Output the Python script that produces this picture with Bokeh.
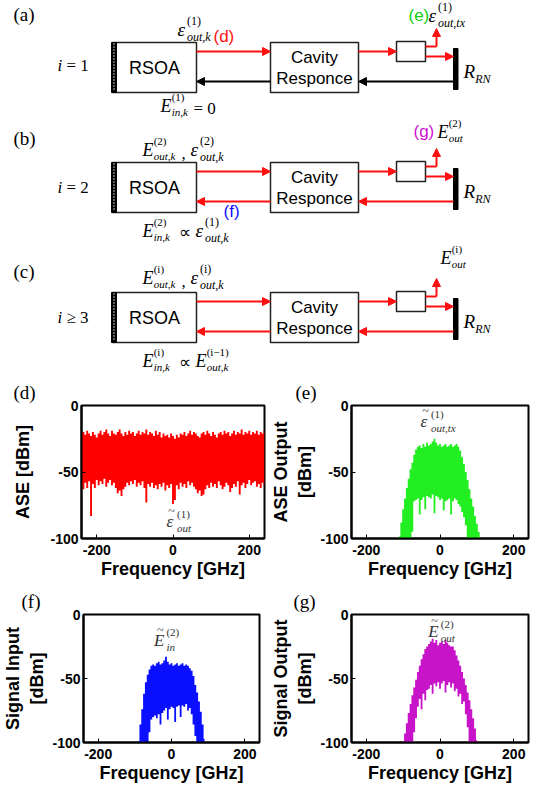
from bokeh.plotting import figure
from bokeh.layouts import column, row
from bokeh.models import Range1d, FixedTicker, Arrow, NormalHead
from bokeh.core.properties import value
from bokeh.embed import file_html
from bokeh.resources import INLINE

# ---------------- data ----------------
freq_d = list(range(-240, 245, 5))
ase_upper = [-21, -20, -22, -19, -21, -23, -20, -22, -24, -21,
             -19, -22, -20, -18, -21, -23, -19, -21, -22, -20,
             -18, -21, -23, -20, -22, -19, -21, -20, -23, -21,
             -19, -22, -20, -21, -18, -22, -20, -21, -23, -19,
             -22, -20, -24, -21, -23, -22, -24, -21, -23, -25,
             -22, -24, -21, -22, -20, -23, -21, -19, -22, -20,
             -21, -23, -24, -21, -20, -22, -19, -21, -23, -20,
             -22, -24, -21, -20, -22, -19, -21, -20, -23, -21,
             -19, -22, -20, -21, -18, -22, -20, -21, -19, -22,
             -20, -21, -19, -22, -20, -21, -19]
ase_lower = [-60, -63, -58, -62, -57, -83, -59, -62, -56, -60,
             -57, -59, -55, -61, -58, -56, -60, -58, -62, -66,
             -64, -68, -63, -61, -58, -60, -57, -59, -56, -61,
             -58, -60, -57, -62, -73, -59, -61, -58, -62, -60,
             -63, -59, -61, -58, -64, -60, -62, -59, -74, -71,
             -60, -63, -58, -61, -59, -62, -57, -60, -58, -61,
             -63, -66, -64, -68, -67, -63, -60, -62, -58, -61,
             -59, -62, -57, -60, -63, -61, -58, -60, -65, -62,
             -59, -61, -57, -67, -60, -58, -62, -59, -56, -60,
             -58, -57, -61, -59, -62, -58, -60]

freq_e = list(range(-110, 115, 5))
ase_out_upper = [-98, -88, -78, -70, -62, -55, -48, -43, -37, -33,
                 -31, -30, -32, -29, -31, -28, -30, -29, -27, -25,
                 -28, -30, -29, -31, -30, -29, -31, -30, -29, -31,
                 -30, -29, -31, -34, -39, -44, -50, -56, -63, -70,
                 -76, -83, -89, -95, -100]
ase_out_lower = [-100, -100, -100, -100, -100, -100, -100, -95, -72, -71,
                 -70, -82, -71, -69, -78, -68, -69, -70, -67, -81,
                 -68, -69, -71, -70, -79, -72, -71, -70, -82, -72,
                 -70, -71, -74, -76, -80, -84, -90, -100, -100, -100,
                 -100, -100, -100, -100, -100]

freq_f = list(range(-90, 95, 5))
sig_in_upper = [-99, -86, -74, -62, -53, -47, -43, -40, -39, -40,
                -38, -37, -39, -38, -36, -33, -37, -39, -38, -40,
                -39, -38, -40, -39, -38, -40, -39, -40, -42, -44,
                -48, -55, -61, -68, -76, -86, -97]
sig_in_lower = [-100, -100, -100, -100, -100, -100, -92, -82, -80, -79,
                -81, -78, -86, -77, -75, -73, -82, -74, -72, -73,
                -84, -72, -71, -80, -71, -72, -70, -75, -73, -78,
                -86, -95, -100, -100, -100, -100, -100]

freq_g = list(range(-100, 105, 5))
sig_out_upper = [-99, -93, -85, -77, -70, -63, -57, -51, -45, -40,
                 -35, -31, -27, -25, -23, -21, -19, -22, -20, -24,
                 -22, -21, -23, -20, -22, -24, -25, -25, -28, -32,
                 -36, -40, -45, -50, -55, -61, -67, -74, -81, -89,
                 -98]
sig_out_lower = [-100, -100, -100, -100, -100, -100, -92, -81, -72, -66,
                 -74, -62, -67, -59, -58, -55, -62, -54, -56, -53,
                 -58, -54, -52, -61, -55, -53, -57, -54, -60, -58,
                 -64, -62, -70, -68, -78, -88, -100, -100, -100, -100,
                 -100]

x_ticks = [-200, 0, 200]
x_tick_labels = ["-200", "0", "200"]
y_ticks = [-100, -50, 0]
y_tick_labels = ["-100", "-50", "0"]

SANS = "Liberation Sans"
SERIF = "Liberation Serif"


def txt(p, x, y, s, size, font=SANS, style="normal", color="black", align="left"):
    p.text(x=[x], y=[y], text=[s], text_font=value(font), text_font_style=style,
           text_font_size=f"{size}px", text_color=color, text_align=align,
           text_baseline="middle")


def sym(p, x, y, base, sub="", sup="", size=18, color="black", bw=0.62, tilde=False):
    p.text(x=[x], y=[y], text=[base], text_font=value(SERIF), text_font_style="italic",
           text_font_size=f"{size}px", text_color=color, text_align="left",
           text_baseline="middle")
    small = f"{round(size * 0.62)}px"
    xo = size * bw
    if tilde:
        p.text(x=[x], y=[y], x_offset=xo * 0.6, y_offset=-size * 0.62, text=["~"],
               text_font=value(SERIF), text_font_style="normal",
               text_font_size=f"{round(size * 0.7)}px", text_color=color,
               text_align="center", text_baseline="middle")
        xo += 2
    if sup:
        p.text(x=[x], y=[y], x_offset=xo, y_offset=-size * 0.45, text=[sup],
               text_font=value(SERIF), text_font_style="normal", text_font_size=small,
               text_color=color, text_align="left", text_baseline="middle")
    if sub:
        p.text(x=[x], y=[y], x_offset=xo, y_offset=size * 0.38, text=[sub],
               text_font=value(SERIF), text_font_style="italic", text_font_size=small,
               text_color=color, text_align="left", text_baseline="middle")


def arrow(p, x0, y0, x1, y1, color):
    p.add_layout(Arrow(end=NormalHead(size=8, fill_color=color, line_color=color, line_width=1),
                       x_start=x0, y_start=y0, x_end=x1, y_end=y1,
                       line_color=color, line_width=2))


# ---------------- block diagrams (a)-(c) ----------------
dg = figure(width=536, height=375, x_range=Range1d(0, 536), y_range=Range1d(375, 0),
            x_axis_type=None, y_axis_type=None, output_backend="svg",
            toolbar_location=None, min_border=0)
dg.grid.visible = False
dg.outline_line_color = None

RED = "#ff1010"
tops = [42, 162, 292]
back_colors = ["black", RED, RED]
for top, bc in zip(tops, back_colors):
    dg.quad(left=112, right=196, top=top, bottom=top + 50, fill_color="white",
            line_color="#222222", line_width=1.5)
    dg.quad(left=111, right=116, top=top, bottom=top + 50, fill_color="black",
            line_color="black")
    dg.segment(x0=113.5, y0=top + 1, x1=113.5, y1=top + 49, line_color="white",
               line_width=1.5, line_dash="1 2")
    dg.quad(left=270, right=358, top=top, bottom=top + 50, fill_color="white",
            line_color="#222222", line_width=1.5)
    dg.quad(left=396, right=425, top=top - 1, bottom=top + 19, fill_color="white",
            line_color="#222222", line_width=1.5)
    dg.quad(left=453, right=457.5, top=top + 6, bottom=top + 47, fill_color="black",
            line_color="black")
    # forward path
    arrow(dg, 196, top + 9, 270, top + 9, RED)
    arrow(dg, 358, top + 9, 396, top + 9, RED)
    dg.line(x=[425, 436], y=[top + 4, top + 4], line_color=RED, line_width=2)
    arrow(dg, 436, top + 4, 436, top - 14, RED)
    arrow(dg, 425, top + 14, 453, top + 14, RED)
    # backward path
    arrow(dg, 453, top + 39, 358, top + 39, bc)
    arrow(dg, 270, top + 39, 196, top + 39, bc)
    txt(dg, 154, top + 25, "RSOA", 18, align="center")
    txt(dg, 314, top + 15, "Cavity", 17, align="center")
    txt(dg, 314, top + 36, "Responce", 17, align="center")
    sym(dg, 463, top + 29, "R", sub="RN", size=19)

# panel (a)
txt(dg, 13, 14, "(a)", 19, font=SERIF)
txt(dg, 57, 65, "i", 17, font=SERIF, style="italic")
txt(dg, 66, 65, "= 1", 17, font=SERIF)
sym(dg, 177, 29, "ε", sub="out,k", sup="(1)", size=19, bw=0.5)
txt(dg, 213, 36, "(d)", 17, color=RED)
txt(dg, 408, 15, "(e)", 17, color="#10d010")
sym(dg, 428, 15, "ε", sub="out,tx", sup="(1)", size=19, bw=0.5)
sym(dg, 160, 105, "E", sub="in,k", sup="(1)", size=18)
txt(dg, 193, 108, "= 0", 17, font=SERIF)

# panel (b)
txt(dg, 13, 138, "(b)", 19, font=SERIF)
txt(dg, 57, 187, "i", 17, font=SERIF, style="italic")
txt(dg, 66, 187, "= 2", 17, font=SERIF)
sym(dg, 142, 149, "E", sub="out,k", sup="(2)", size=18)
txt(dg, 181, 153, ",", 17, font=SERIF)
sym(dg, 190, 149, "ε", sub="out,k", sup="(2)", size=19, bw=0.5)
txt(dg, 413, 131, "(g)", 17, color="#d010d0")
sym(dg, 437, 131, "E", sub="out", sup="(2)", size=18)
txt(dg, 223, 211, "(f)", 17, color="#1010ff")
sym(dg, 142, 230, "E", sub="in,k", sup="(2)", size=18)
txt(dg, 178, 232, "∝", 17, font=SERIF)
sym(dg, 195, 230, "ε", sub="out,k", sup="(1)", size=19, bw=0.5)

# panel (c)
txt(dg, 13, 271, "(c)", 19, font=SERIF)
txt(dg, 57, 317, "i", 17, font=SERIF, style="italic")
txt(dg, 66, 317, "≥ 3", 17, font=SERIF)
sym(dg, 142, 277, "E", sub="out,k", sup="(i)", size=18)
txt(dg, 181, 281, ",", 17, font=SERIF)
sym(dg, 190, 277, "ε", sub="out,k", sup="(i)", size=19, bw=0.5)
sym(dg, 440, 257, "E", sub="out", sup="(i)", size=18)
sym(dg, 142, 360, "E", sub="in,k", sup="(i)", size=18)
txt(dg, 178, 362, "∝", 17, font=SERIF)
sym(dg, 195, 360, "E", sub="out,k", sup="(i−1)", size=18)


# ---------------- spectra (d)-(g) ----------------
def spectrum(freq, lower, upper, color, ylabel, borders, height, label_standoff,
             letter, letter_px, ann):
    bl, br, bt, bb = borders
    p = figure(width=268, height=height, x_range=Range1d(-240, 240),
               y_range=Range1d(-100, 0), output_backend="svg", toolbar_location=None,
               min_border_left=bl, min_border_right=br, min_border_top=bt,
               min_border_bottom=bb)
    p.varea_step(x=freq, y1=lower, y2=upper, step_mode="center", fill_color=color)
    p.grid.visible = False
    p.outline_line_color = "black"
    p.outline_line_width = 2
    p.xaxis.ticker = FixedTicker(ticks=x_ticks)
    p.xaxis.major_label_overrides = dict(zip(x_ticks, x_tick_labels))
    p.yaxis.ticker = FixedTicker(ticks=y_ticks)
    p.yaxis.major_label_overrides = dict(zip(y_ticks, y_tick_labels))
    p.axis.axis_line_width = 2
    p.axis.major_tick_in = 4
    p.axis.major_tick_out = 0
    p.axis.minor_tick_line_color = None
    p.axis.major_label_text_font = SANS
    p.axis.major_label_text_font_style = "bold"
    p.axis.major_label_text_font_size = "14px"
    p.axis.major_label_text_color = "black"
    p.axis.axis_label_text_font = SANS
    p.axis.axis_label_text_font_style = "bold"
    p.axis.axis_label_text_font_size = "18px"
    p.axis.axis_label_text_color = "black"
    p.xaxis.major_label_standoff = 6
    p.yaxis.major_label_standoff = 3
    p.xaxis.axis_label = "Frequency [GHz]"
    p.xaxis.axis_label_standoff = 1
    p.yaxis.axis_label = ylabel
    p.yaxis.axis_label_standoff = label_standoff
    # panel letter as a left-aligned title shifted into the left margin
    p.title.text = letter
    p.title.text_font = SERIF
    p.title.text_font_style = "normal"
    p.title.text_font_size = "19px"
    p.title.text_color = "black"
    p.title.align = "left"
    p.title.offset = letter_px - bl
    p.title.standoff = 6
    base, sub, sup, ax, ay = ann
    sym(p, ax, ay, base, sub=sub, sup=sup, size=17, color="#333333",
        bw=(0.5 if base == "ε" else 0.62), tilde=True)
    return p


pd_ = spectrum(freq_d, ase_lower, ase_upper, "#ff0000", "ASE [dBm]",
               (81, 4, 30, 47), 210, 14, "(d)", 13,
               ("ε", "out", "(1)", -17, -87))
pe_ = spectrum(freq_e, ase_out_lower, ase_out_upper, "#22ee22", "ASE Output\n[dBm]",
               (78, 8, 30, 47), 210, 2, "(e)", 22,
               ("ε", "out,tx", "(1)", -53, -12))
pf_ = spectrum(freq_f, sig_in_lower, sig_in_upper, "#0a10ff", "Signal Input\n[dBm]",
               (79, 9, 24, 49), 206, 2, "(f)", 17,
               ("E", "in", "(2)", -48, -20))
pg_ = spectrum(freq_g, sig_out_lower, sig_out_upper, "#c814c8", "Signal Output\n[dBm]",
               (78, 8, 27, 47), 206, 2, "(g)", 20,
               ("E", "out", "(2)", -32, -13.5))

layout = column(dg, row(pd_, pe_), row(pf_, pg_))
open("out.html", "w").write(file_html(layout, INLINE))
